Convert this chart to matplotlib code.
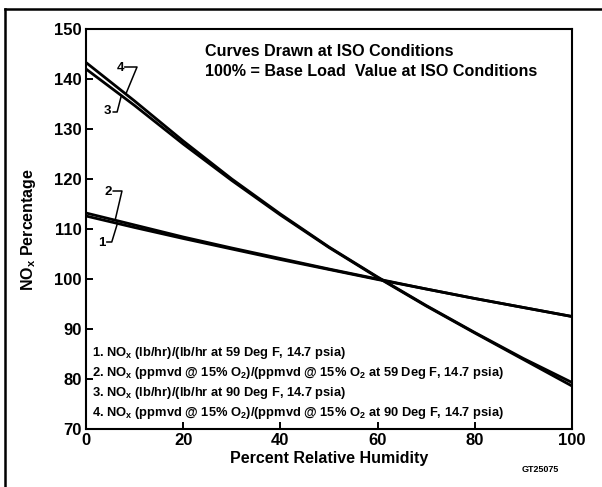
"""
NOx 随相对湿度变化曲线（ISO 工况，基本负荷=100%）
"""

import matplotlib

matplotlib.use("Agg")
import matplotlib.pyplot as plt
from matplotlib.lines import Line2D

plt.rcParams["font.family"] = ["Liberation Sans", "DejaVu Sans"]
plt.rcParams["font.weight"] = "bold"
plt.rcParams["mathtext.default"] = "regular"

# ---------- 数据 ----------
humidity = [0, 10, 20, 30, 40, 50, 60, 70, 80, 90, 100]
nox_1 = [112.6, 110.3, 108.1, 106.0, 103.9, 101.9, 99.9, 98.0, 96.1, 94.3, 92.5]
nox_2 = [113.2, 110.8, 108.4, 106.2, 104.1, 102.0, 100.0, 98.0, 96.1, 94.3, 92.5]
nox_3 = [142.0, 134.7, 127.0, 119.7, 112.8, 106.3, 100.3, 94.6, 89.2, 83.9, 78.6]
nox_4 = [143.3, 135.6, 127.6, 120.0, 113.0, 106.4, 100.4, 94.7, 89.3, 84.1, 79.3]

x_ticks = [0, 20, 40, 60, 80, 100]
y_ticks = [70, 80, 90, 100, 110, 120, 130, 140, 150]

header_lines = [
    "Curves Drawn at ISO Conditions",
    "100% = Base Load  Value at ISO Conditions",
]
legend_lines = [
    "1. NO$_x$ (lb/hr)/(lb/hr at 59 Deg F, 14.7 psia)",
    "2. NO$_x$ (ppmvd @ 15% O$_2$)/(ppmvd @ 15% O$_2$ at 59 Deg F, 14.7 psia)",
    "3. NO$_x$ (lb/hr)/(lb/hr at 90 Deg F, 14.7 psia)",
    "4. NO$_x$ (ppmvd @ 15% O$_2$)/(ppmvd @ 15% O$_2$ at 90 Deg F, 14.7 psia)",
]

# 曲线编号引线：(文字位置, 折线点)
callouts = {
    "4": ((7.0, 142.2), [(8.0, 142.4), (10.5, 142.4), (8.2, 137.0)]),
    "3": ((4.5, 133.6), [(5.6, 133.4), (6.4, 133.4), (7.2, 136.4)]),
    "2": ((4.5, 117.4), [(5.6, 117.6), (7.4, 117.6), (6.0, 111.8)]),
    "1": ((3.3, 107.2), [(4.3, 107.4), (5.3, 107.4), (6.4, 110.9)]),
}

W, H = 602, 487
LINE_LW = 2.0

fig = plt.figure(figsize=(W / 100, H / 100), dpi=100)
ax = fig.add_axes([86 / W, (H - 429) / H, (572 - 86) / W, (429 - 29) / H])

for ys in (nox_1, nox_2, nox_3, nox_4):
    ax.plot(humidity, ys, color="black", lw=LINE_LW, solid_capstyle="butt")

ax.set_xlim(0, 100)
ax.set_ylim(70, 150)
ax.set_xticks(x_ticks)
ax.set_yticks(y_ticks)
ax.tick_params(direction="in", length=5, width=1.4, labelsize=12, pad=3)
for s in ax.spines.values():
    s.set_linewidth(1.5)
for t in ax.get_xticklabels() + ax.get_yticklabels():
    t.set_fontweight("bold")

ax.set_xlabel("Percent Relative Humidity", fontsize=11.5, fontweight="bold", labelpad=2)
ax.set_ylabel("NO$_x$ Percentage", fontsize=11.5, fontweight="bold", labelpad=12)

for i, txt in enumerate(header_lines):
    ax.text(24.5, 145.6 - i * 4.0, txt, fontsize=11.6, fontweight="bold", va="center", ha="left")

for i, txt in enumerate(legend_lines):
    ax.text(1.2, 85.2 - i * 4.0, txt, fontsize=9.3, fontweight="bold", va="center", ha="left")

for label, (pos, pts) in callouts.items():
    ax.text(pos[0], pos[1], label, fontsize=9.5, fontweight="bold", ha="center", va="center")
    ax.plot([p[0] for p in pts], [p[1] for p in pts], color="black", lw=1.1)

fig.text(540 / W, 1 - 470 / H, "GT25075", fontsize=6.5, fontweight="bold", ha="center", va="center")

# 外框（上、左）
fig.add_artist(Line2D([5 / W, 1.0], [1 - 9 / H, 1 - 9 / H], color="black", lw=1.8))
fig.add_artist(Line2D([5 / W, 5 / W], [0.0, 1 - 9 / H], color="black", lw=1.8))

fig.savefig("out.png", dpi=100)
